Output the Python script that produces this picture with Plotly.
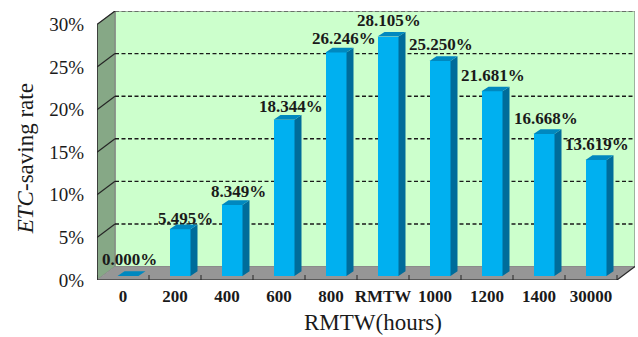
import plotly.graph_objects as go

categories = ["0", "200", "400", "600", "800", "RMTW", "1000", "1200", "1400", "30000"]
saving_rate = [0.000, 5.495, 8.349, 18.344, 26.246, 28.105, 25.250, 21.681, 16.668, 13.619]
y_ticks = [0, 5, 10, 15, 20, 25, 30]
label_xshift = [1, 5, 6, 6.5, 8, 0.5, 0.5, 0.5, 1.5, 0.5]
label_yshift = [17, 11, 13, 13, 14, 16, 16.7, 16, 16, 16]

FONT = "Liberation Serif"
W, H = 638, 337
L, R, T, B = 97, 635, 10.5, 280
SLOT = 52.0
PX_PER_PCT = 256 / 30
px = 1 / SLOT            # one pixel in x data units
py = 1 / PX_PER_PCT      # one pixel in y data units
DX, DY = 18 * px, 13.5 * py   # depth of the box

n = len(categories)
xs = list(range(n))
x0, x1 = -0.5, n - 0.5
y_top = y_ticks[-1]
x_range = [x0, x0 + (R - L) / SLOT]
y_range = [0, (B - T) / PX_PER_PCT]

BACK = "#CCFFCC"
FLOOR = "#969696"
WALL = "#86A886"
BAR = "#00B0F0"
SIDE = "#006C9A"
TOP = "#0088BF"
EDGE = "#808080"
DARK = "#262626"
TEXT = "#1a1a1a"


def poly(pts, fill, line=None, width=0):
    path = "M " + " L ".join(f"{a},{b}" for a, b in pts) + " Z"
    return dict(type="path", path=path, xref="x", yref="y", layer="below",
                fillcolor=fill, line=dict(color=line or fill, width=width))


def seg(a, b, c, d, color=DARK, width=1.2, dash="solid"):
    return dict(type="line", x0=a, y0=b, x1=c, y1=d, xref="x", yref="y", layer="below",
                line=dict(color=color, width=width, dash=dash))


shapes = [
    poly([(x0 + DX, DY), (x1 + DX, DY), (x1 + DX, y_top + DY), (x0 + DX, y_top + DY)], BACK, EDGE, 1.2),
    poly([(x0, 0), (x0 + DX, DY), (x0 + DX, y_top + DY), (x0, y_top)], WALL, EDGE, 1),
    poly([(x0, 0), (x1, 0), (x1 + DX, DY), (x0 + DX, DY)], FLOOR),
]
for v in y_ticks[1:]:
    shapes.append(seg(x0 + DX, v + DY, x1 + DX, v + DY,
                      color="#555555" if v == y_top else "#1a1a1a", width=1.4, dash="4px,2.5px"))
    shapes.append(seg(x0, v, x0 + DX, v + DY))
shapes += [
    seg(x0, 0, x0, y_top, width=1.5),
    seg(x0, 0, x1, 0, color="#444444", width=1.5),
    seg(x1, 0, x1 + DX, DY, color=DARK, width=1.2),
]
for i in range(n + 1):
    shapes.append(seg(x0 + i, 0, x0 + i, 5 * py, width=1))

BAR_W = 21 * px
SHIFT_X, BASE_Y = 5 * px, 4 * py
SX, SY = 7 * px, 4.7 * py
centers = [x + SHIFT_X for x in xs]

side_x, side_y, top_x, top_y = [], [], [], []
for c, v in zip(centers, saving_rate):
    r = c + BAR_W / 2
    l = c - BAR_W / 2
    t = v + BASE_Y
    if v > 0:
        side_x += [r, r + SX, r + SX, r, r, None]
        side_y += [BASE_Y, BASE_Y + SY, t + SY, t, BASE_Y, None]
    top_x += [l, r, r + SX, l + SX, l, None]
    top_y += [t, t, t + SY, t + SY, t, None]

fig = go.Figure()
fig.add_bar(x=centers, y=saving_rate, base=[BASE_Y] * n, width=BAR_W,
            marker=dict(color=BAR, line=dict(width=0)), hoverinfo="skip", showlegend=False)
fig.add_scatter(x=side_x, y=side_y, mode="lines", fill="toself", fillcolor=SIDE,
                line=dict(width=0), hoverinfo="skip", showlegend=False)
fig.add_scatter(x=top_x, y=top_y, mode="lines", fill="toself", fillcolor=TOP,
                line=dict(width=0), hoverinfo="skip", showlegend=False)

annotations = [
    dict(x=c, y=v + BASE_Y, text=f"<b>{v:.3f}%</b>", showarrow=False, xanchor="center", yanchor="middle",
         xshift=sx_, yshift=sy_, font=dict(family=FONT, size=17, color=TEXT))
    for c, v, sx_, sy_ in zip(centers, saving_rate, label_xshift, label_yshift)
]
annotations += [
    dict(x=x0 + 276 / SLOT, y=0, yshift=-42, text="RMTW(hours)", showarrow=False,
         xanchor="center", yanchor="middle", font=dict(family=FONT, size=23, color=TEXT)),
    dict(x=x0, y=121 / PX_PER_PCT, xshift=-72, text="<i>ETC</i>-saving rate", showarrow=False,
         textangle=-90, xanchor="center", yanchor="middle", font=dict(family=FONT, size=23, color=TEXT)),
]

fig.update_layout(
    width=W, height=H, autosize=False,
    margin=dict(l=L, r=W - R, t=T, b=H - B),
    paper_bgcolor="white", plot_bgcolor="white",
    bargap=0, showlegend=False, shapes=shapes, annotations=annotations,
    font=dict(family=FONT, color=TEXT),
    xaxis=dict(range=x_range, tickmode="array", tickvals=xs,
               ticktext=[f"<b>{c}</b>" for c in categories],
               tickfont=dict(family=FONT, size=17, color=TEXT),
               ticks="", ticklabelstandoff=4,
               showgrid=False, zeroline=False, showline=False),
    yaxis=dict(range=y_range, tickmode="array", tickvals=y_ticks,
               ticktext=[f"{v}%" for v in y_ticks],
               tickfont=dict(family=FONT, size=19, color=TEXT),
               ticks="", ticklabelstandoff=12, showgrid=False, zeroline=False, showline=False),
)

fig.write_html("out.html", config=dict(displayModeBar=False),
               post_script="document.body.style.margin='0';")
